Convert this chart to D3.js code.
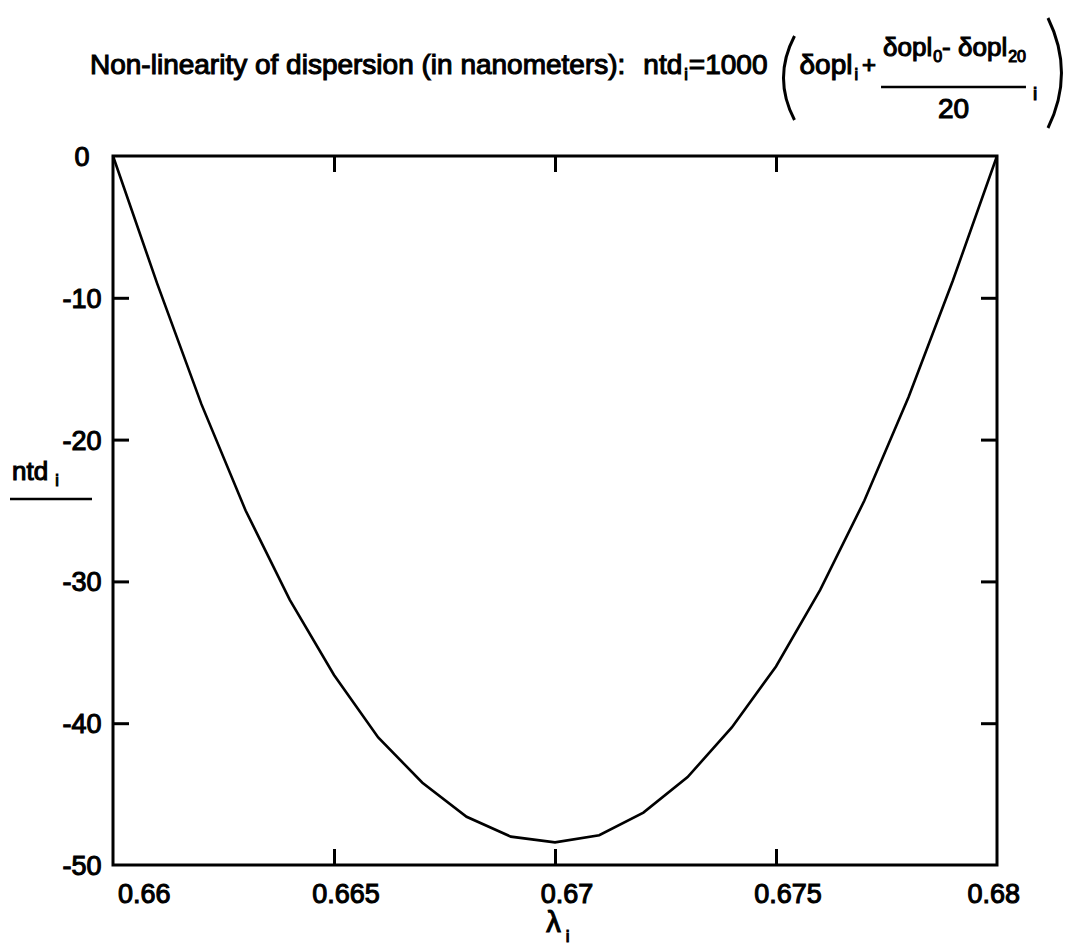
<!DOCTYPE html>
<html>
<head>
<meta charset="utf-8">
<script src="https://cdn.jsdelivr.net/npm/d3@7"></script>
<style>
  html, body { margin: 0; padding: 0; background: #fff; }
  svg { display: block; }
  text { font-family: "Liberation Sans", Arial, Helvetica, sans-serif; fill: #000; stroke: #000; stroke-width: 1.1px; }
</style>
</head>
<body>
<svg id="chart" width="1084" height="945"></svg>
<script>
// ---- data ----
const lambda = [0.660, 0.661, 0.662, 0.663, 0.664, 0.665, 0.666, 0.667, 0.668, 0.669, 0.670,
                0.671, 0.672, 0.673, 0.674, 0.675, 0.676, 0.677, 0.678, 0.679, 0.680];
const ntd = [0, -9.0, -17.5, -25.0, -31.3, -36.6, -41.0, -44.2, -46.6, -48.0, -48.4,
             -47.9, -46.3, -43.8, -40.3, -36.0, -30.6, -24.3, -17.0, -8.8, 0];
const xTicks = [0.66, 0.665, 0.67, 0.675, 0.68];
const xTickLabels = ["0.66", "0.665", "0.67", "0.675", "0.68"];
const yTicks = [0, -10, -20, -30, -40, -50];
const yTickLabels = ["0", "-10", "-20", "-30", "-40", "-50"];
const xDomain = [0.66, 0.68];
const yDomain = [-50, 0];

// ---- layout ----
const svg = d3.select("#chart");
const L = 113, R = 997, T = 156, B = 865;
const x = d3.scaleLinear().domain(xDomain).range([L, R]);
const y = d3.scaleLinear().domain(yDomain).range([B, T]);
const tickLen = 16;
const tickFont = 27;

// frame
svg.append("rect").attr("x", L).attr("y", T).attr("width", R - L).attr("height", B - T)
  .attr("fill", "none").attr("stroke", "#000").attr("stroke-width", 3);

// inward ticks via d3 axes
const inner = xTicks.filter(v => v > xDomain[0] && v < xDomain[1]);
const innerY = yTicks.filter(v => v > yDomain[0] && v < yDomain[1]);
const axes = [
  svg.append("g").attr("transform", `translate(0,${B})`).call(d3.axisTop(x).tickValues(inner).tickSize(tickLen).tickFormat("")),
  svg.append("g").attr("transform", `translate(0,${T})`).call(d3.axisBottom(x).tickValues(inner).tickSize(tickLen).tickFormat("")),
  svg.append("g").attr("transform", `translate(${L},0)`).call(d3.axisRight(y).tickValues(innerY).tickSize(tickLen).tickFormat("")),
  svg.append("g").attr("transform", `translate(${R},0)`).call(d3.axisLeft(y).tickValues(innerY).tickSize(tickLen).tickFormat(""))
];
axes.forEach(g => {
  g.select(".domain").remove();
  g.selectAll(".tick line").attr("stroke", "#000").attr("stroke-width", 3);
});

// x tick labels (offset right of the tick, kept within [L+5, R+23])
xTicks.forEach((v, i) => {
  const t = svg.append("text").attr("x", x(v) + 12).attr("y", B + 38)
    .attr("text-anchor", "middle").attr("font-size", tickFont).text(xTickLabels[i]);
  const bb = t.node().getBBox();
  if (bb.x < L + 5) t.attr("x", x(v) + 12 + (L + 5 - bb.x));
  if (bb.x + bb.width > R + 23) t.attr("x", x(v) + 12 - (bb.x + bb.width - (R + 23)));
});

// y tick labels (centered in the left margin)
yTicks.forEach((v, i) => {
  svg.append("text").attr("x", 82).attr("y", y(v) + 10)
    .attr("text-anchor", "middle").attr("font-size", tickFont).text(yTickLabels[i]);
});

// curve
const line = d3.line().x((d, i) => x(lambda[i])).y(d => y(d));
svg.append("path").datum(ntd).attr("d", line)
  .attr("fill", "none").attr("stroke", "#000").attr("stroke-width", 2.6);

// x axis label: λ_i
const xl = svg.append("text").attr("x", 558).attr("y", 932).attr("text-anchor", "middle")
  .attr("font-size", 29);
xl.append("tspan").text("λ");
xl.append("tspan").attr("font-size", 17).attr("dx", 5).attr("dy", 10).text("i");

// y axis label: ntd_i underlined
const yl = svg.append("text").attr("x", 12).attr("y", 480).attr("font-size", 26);
yl.append("tspan").text("ntd");
yl.append("tspan").attr("font-size", 16).attr("dx", 7).attr("dy", 6).text("i");
svg.append("line").attr("x1", 10).attr("x2", 92).attr("y1", 499).attr("y2", 499)
  .attr("stroke", "#000").attr("stroke-width", 2.5);

// ---- title with formula ----
const base = 74;
let cx = 90;
function put(str, size, dy, gapAfter) {
  const t = svg.append("text").attr("x", cx).attr("y", base + (dy || 0)).attr("font-size", size).text(str);
  const w = t.node().getComputedTextLength();
  cx += w + (gapAfter || 0);
  return t;
}
put("Non-linearity of dispersion (in nanometers):", 28, 0, 18);
put("ntd", 28, 0, 2);
put("i", 16, 6, 1);
put("=1000", 28, 0, 12);
// left big paren
const pL = cx;
svg.append("path")
  .attr("d", `M${pL + 15},${36} Q${pL - 7},${78} ${pL + 15},${120}`)
  .attr("fill", "none").attr("stroke", "#000").attr("stroke-width", 3);
cx += 20;
put("δopl", 28, 0, 2);
put("i", 16, 6, 4);
put("+", 24, -1, 5);
// fraction
const fx0 = cx;
const num = svg.append("text").attr("y", 56).attr("font-size", 26);
num.append("tspan").text("δopl");
num.append("tspan").attr("font-size", 16).attr("dy", 6).attr("dx", 1).text("0");
num.append("tspan").attr("font-size", 26).attr("dy", -6).text("- δopl");
num.append("tspan").attr("font-size", 16).attr("dy", 6).attr("dx", 1).text("20");
const numW = num.node().getComputedTextLength();
num.attr("x", fx0 + 2);
const barW = numW + 4;
svg.append("line").attr("x1", fx0).attr("x2", fx0 + barW).attr("y1", 87).attr("y2", 87)
  .attr("stroke", "#000").attr("stroke-width", 2.5);
svg.append("text").attr("x", fx0 + barW / 2).attr("y", 118).attr("text-anchor", "middle")
  .attr("font-size", 28).text("20");
cx = fx0 + barW + 7;
svg.append("text").attr("x", cx).attr("y", 100).attr("font-size", 19).text("i");
cx += 15;
// right big paren
svg.append("path")
  .attr("d", `M${cx},${18} Q${cx + 27},${73} ${cx},${128}`)
  .attr("fill", "none").attr("stroke", "#000").attr("stroke-width", 3);
</script>
</body>
</html>
